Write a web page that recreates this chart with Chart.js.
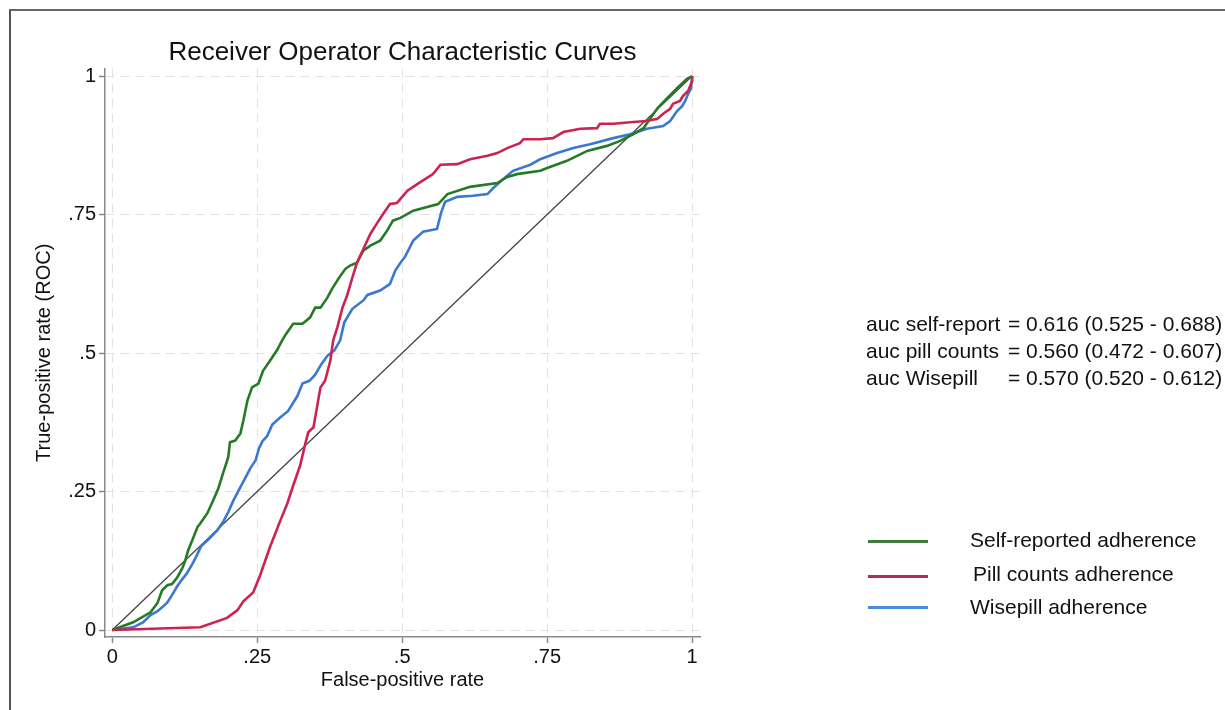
<!DOCTYPE html>
<html>
<head>
<meta charset="utf-8">
<script src="https://cdn.jsdelivr.net/npm/chart.js@4"></script>
<style>
  html, body { margin: 0; padding: 0; background: #fff; }
  #wrap { position: relative; width: 1225px; height: 710px; overflow: hidden; font-family: "Liberation Sans", Arial, sans-serif; color: #111; }
  #frame { position: absolute; left: 9px; top: 9px; width: 1230px; height: 720px; border-top: 2px solid #666; border-left: 2px solid #555; }
  canvas { position: absolute; left: 0; top: 0; }
  .auc { position: absolute; left: 866px; font-size: 21px; white-space: pre; line-height: 27px; }
  .auc span { display: inline-block; width: 142px; }
  .lg { position: absolute; font-size: 21px; white-space: pre; }
  .lgline { position: absolute; left: 868px; width: 60px; height: 3px; }
</style>
</head>
<body>
<div id="wrap">
  <div id="frame"></div>
  <canvas id="c" width="1225" height="710"></canvas>
  <div class="auc" id="auc" style="top:310px"></div>
  <div class="lgline" style="top:540px;background:#3f7a3f"></div>
  <div class="lgline" style="top:575px;background:#b03050"></div>
  <div class="lgline" style="top:606px;background:#4a8ae0"></div>
  <div class="lg" style="left:970px;top:528px">Self-reported adherence</div>
  <div class="lg" style="left:973px;top:562px">Pill counts adherence</div>
  <div class="lg" style="left:970px;top:595px">Wisepill adherence</div>
</div>
<script>
// ---- data ----
const tickValues = [0, 0.25, 0.5, 0.75, 1];
const tickLabels = ["0", ".25", ".5", ".75", "1"];

const seriesNames = ["Self-reported adherence", "Pill counts adherence", "Wisepill adherence"];

const aucLabels = ["auc self-report", "auc pill counts", "auc Wisepill"];
const aucTexts = ["= 0.616 (0.525 - 0.688)", "= 0.560 (0.472 - 0.607)", "= 0.570 (0.520 - 0.612)"];

const selfFpr = [0,0.036,0.066,0.078,0.086,0.095,0.103,0.112,0.121,0.126,0.131,0.138,0.147,0.152,0.164,0.174,0.183,0.191,0.2,0.203,0.212,0.221,0.226,0.233,0.241,0.252,0.26,0.272,0.284,0.293,0.3,0.312,0.328,0.341,0.35,0.359,0.371,0.379,0.39,0.402,0.41,0.422,0.433,0.445,0.462,0.474,0.484,0.497,0.519,0.562,0.578,0.617,0.664,0.681,0.698,0.738,0.75,0.784,0.819,0.853,0.876,0.898,0.916,0.928,0.94,0.957,0.974,0.991,1];
const selfTpr = [0,0.014,0.032,0.049,0.072,0.081,0.083,0.095,0.112,0.126,0.144,0.162,0.186,0.193,0.211,0.234,0.256,0.283,0.312,0.339,0.342,0.355,0.378,0.414,0.438,0.445,0.468,0.486,0.505,0.523,0.535,0.553,0.553,0.564,0.582,0.582,0.6,0.616,0.634,0.652,0.658,0.663,0.685,0.694,0.703,0.721,0.739,0.744,0.757,0.769,0.787,0.8,0.807,0.818,0.823,0.829,0.834,0.847,0.865,0.874,0.883,0.895,0.906,0.924,0.942,0.96,0.978,0.995,1];

const pillFpr = [0,0.152,0.198,0.216,0.226,0.243,0.255,0.272,0.29,0.302,0.312,0.324,0.333,0.338,0.347,0.353,0.359,0.367,0.376,0.381,0.388,0.397,0.405,0.414,0.422,0.433,0.445,0.457,0.467,0.479,0.491,0.509,0.526,0.553,0.566,0.595,0.617,0.647,0.664,0.681,0.703,0.709,0.738,0.76,0.778,0.807,0.836,0.841,0.864,0.898,0.922,0.94,0.95,0.962,0.967,0.979,0.984,0.993,1,1];
const pillTpr = [0,0.005,0.022,0.036,0.052,0.068,0.099,0.15,0.198,0.229,0.261,0.297,0.337,0.357,0.366,0.402,0.438,0.45,0.486,0.523,0.546,0.582,0.604,0.636,0.663,0.688,0.715,0.735,0.751,0.769,0.771,0.793,0.805,0.823,0.84,0.841,0.85,0.856,0.861,0.87,0.879,0.886,0.886,0.888,0.899,0.905,0.906,0.914,0.914,0.917,0.919,0.923,0.932,0.941,0.95,0.955,0.964,0.973,0.991,1];

const wiseFpr = [0,0.036,0.053,0.066,0.078,0.086,0.095,0.103,0.112,0.121,0.129,0.138,0.145,0.153,0.166,0.181,0.191,0.2,0.209,0.221,0.229,0.238,0.247,0.253,0.259,0.267,0.276,0.29,0.303,0.319,0.328,0.34,0.35,0.36,0.371,0.383,0.393,0.4,0.414,0.433,0.44,0.462,0.479,0.488,0.497,0.505,0.519,0.536,0.56,0.567,0.574,0.595,0.622,0.647,0.657,0.674,0.691,0.721,0.738,0.767,0.795,0.824,0.864,0.893,0.922,0.95,0.962,0.974,0.983,0.988,0.993,0.998,1];
const wiseTpr = [0,0.005,0.014,0.027,0.034,0.041,0.05,0.063,0.079,0.092,0.103,0.119,0.133,0.151,0.164,0.18,0.195,0.213,0.234,0.258,0.274,0.292,0.306,0.328,0.341,0.35,0.371,0.384,0.395,0.422,0.445,0.45,0.461,0.479,0.495,0.505,0.523,0.555,0.58,0.595,0.605,0.613,0.625,0.649,0.663,0.674,0.703,0.719,0.724,0.753,0.773,0.782,0.784,0.787,0.798,0.814,0.829,0.84,0.85,0.861,0.87,0.877,0.888,0.895,0.905,0.91,0.919,0.937,0.946,0.955,0.968,0.978,1];

const refX = [0, 1];
const refY = [0, 1];

// ---- build ----
function pts(xs, ys) { return xs.map((x, i) => ({ x: x, y: ys[i] })); }

const aucBox = document.getElementById('auc');
aucBox.innerHTML = aucLabels.map((l, i) => '<div><span>' + l + '</span>' + aucTexts[i] + '</div>').join('');

const FONT = "'Liberation Sans', Arial, sans-serif";

function fixTicks(scale) {
  scale.ticks = tickValues.map(v => ({ value: v }));
}

const axisCommon = {
  type: 'linear',
  min: -0.0125,
  max: 1.0135,
  afterBuildTicks: fixTicks,
  grid: {
    color: '#e2e2e2',
    lineWidth: 1,
    tickColor: '#8a8a8a',
    tickLength: 6,
    tickWidth: 1.5,
    tickBorderDash: []
  },
  border: { display: true, color: '#8a8a8a', width: 1.5, dash: [9, 6] },
  ticks: {
    color: '#111',
    font: { family: FONT, size: 20 },
    autoSkip: false,
    maxRotation: 0,
    callback: function (value, index) { return tickLabels[index]; }
  }
};

new Chart(document.getElementById('c'), {
  type: 'line',
  data: {
    datasets: [
      { label: seriesNames[1], data: pts(pillFpr, pillTpr), borderColor: '#cc2350', borderWidth: 2.6, pointRadius: 0, tension: 0, order: 1 },
      { label: seriesNames[0], data: pts(selfFpr, selfTpr), borderColor: '#267a26', borderWidth: 2.6, pointRadius: 0, tension: 0, order: 2 },
      { label: seriesNames[2], data: pts(wiseFpr, wiseTpr), borderColor: '#3a78d2', borderWidth: 2.6, pointRadius: 0, tension: 0, order: 3 },
      { label: 'reference', data: pts(refX, refY), borderColor: '#444', borderWidth: 1.3, pointRadius: 0, tension: 0, order: 4 }
    ]
  },
  options: {
    responsive: false,
    animation: false,
    layout: { padding: { left: 0, top: 0, right: 525, bottom: 0 } },
    plugins: {
      legend: { display: false },
      tooltip: { enabled: false },
      title: {
        display: true,
        fullSize: false,
        text: 'Receiver Operator Characteristic Curves',
        color: '#111',
        font: { family: FONT, size: 26, weight: 'normal' },
        padding: { top: 37.4, bottom: 0 }
      }
    },
    scales: {
      x: Object.assign({}, axisCommon, {
        position: 'bottom',
        ticks: Object.assign({}, axisCommon.ticks, { padding: 2 }),
        title: { display: true, text: 'False-positive rate', color: '#111', font: { family: FONT, size: 20 }, padding: { top: 0, bottom: 18 } },
        afterFit: function (s) { s.height = 73; }
      }),
      y: Object.assign({}, axisCommon, {
        position: 'left',
        ticks: Object.assign({}, axisCommon.ticks, { padding: 3 }),
        title: { display: true, text: 'True-positive rate (ROC)', color: '#111', font: { family: FONT, size: 20 }, padding: { top: 32, bottom: 0 } },
        afterFit: function (s) { s.width = 105; }
      })
    }
  }
});
</script>
</body>
</html>
